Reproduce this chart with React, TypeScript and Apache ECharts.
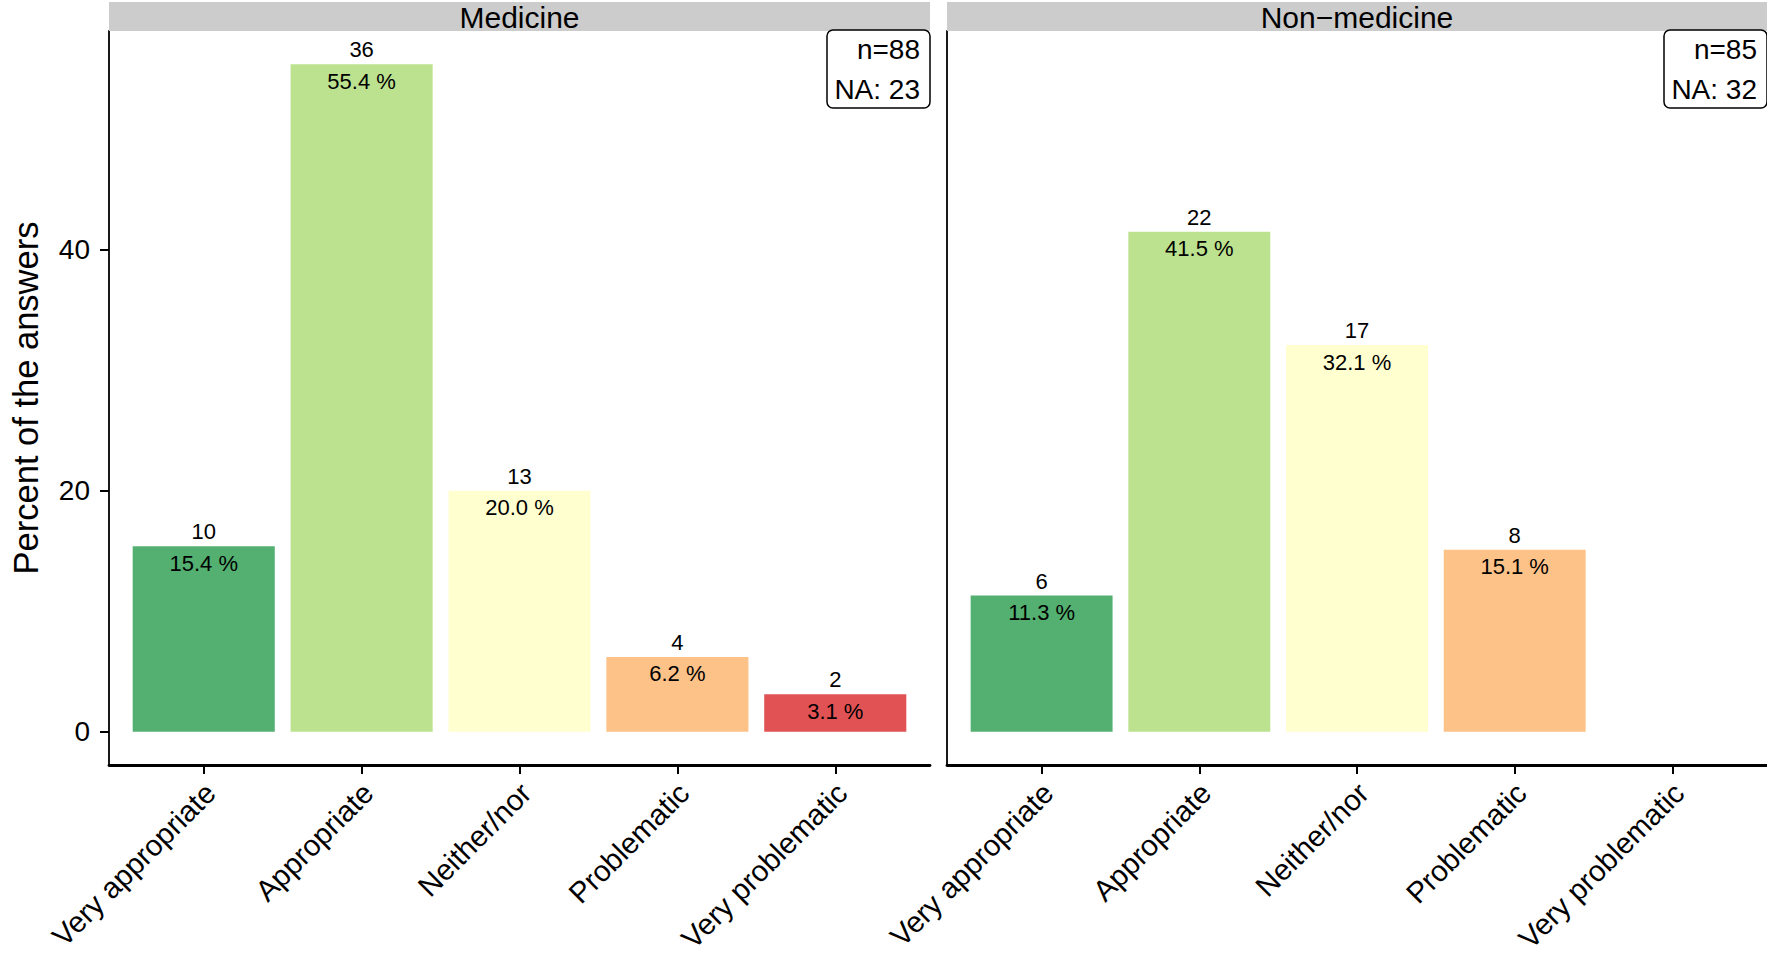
import React, { useEffect, useRef } from "react";
import * as echarts from "echarts";

const categories = ["Very appropriate", "Appropriate", "Neither/nor", "Problematic", "Very problematic"];
const colors = ["#53B070", "#BCE28F", "#FFFFCF", "#FDC288", "#E15255"];

const panelTitles = ["Medicine", "Non\u2212medicine"];
const medicinePct = [15.4, 55.4, 20.0, 6.2, 3.1];
const medicineCounts = [10, 36, 13, 4, 2];
const nonMedicinePct = [11.3, 41.5, 32.1, 15.1];
const nonMedicineCounts = [6, 22, 17, 8];
const nTotals = [88, 85];
const naCounts = [23, 32];

const yTicks = [0, 20, 40];
const yMin = -2.77;
const yMax = 58.17;

const FONT = "'Liberation Sans', Arial, Helvetica, sans-serif";

const W = 1767;
const H = 956;
const TOP = 31;
const BOTTOM = 765;
const panels = [
  { left: 109, right: 930 },
  { left: 947, right: 1767 },
];

export default function App() {
  const ref = useRef<HTMLDivElement>(null);

  useEffect(() => {
    if (!ref.current) return;
    const chart = echarts.init(ref.current, null, { renderer: "svg" });
    const idx = categories.map((_, i) => i);
    const pctSets = [medicinePct, nonMedicinePct];
    const countSets = [medicineCounts, nonMedicineCounts];

    const grids = panels.map((p) => ({
      left: p.left,
      top: TOP,
      width: p.right - p.left,
      height: BOTTOM - TOP,
      containLabel: false,
      outerBoundsMode: "none",
    }));

    const xAxes = panels.map((p, g) => ({
      type: "value",
      gridIndex: g,
      min: -0.6,
      max: 4.6,
      splitLine: { show: false },
      axisLine: { show: true, onZero: false, lineStyle: { color: "#000", width: 2.8 } },
      axisTick: { show: true, customValues: idx, length: 9, lineStyle: { color: "#000", width: 2 } },
      axisLabel: {
        show: true,
        customValues: idx,
        formatter: (v: number) => categories[Math.round(v)] ?? "",
        rotate: 45,
        align: "right",
        verticalAlign: "top",
        margin: 8,
        padding: [0, 6, 0, 0],
        fontSize: 29.5,
        fontFamily: FONT,
        color: "#000",
      },
    }));

    const yAxes = panels.map((p, g) => ({
      type: "value",
      gridIndex: g,
      min: yMin,
      max: yMax,
      splitLine: { show: false },
      axisLine: { show: true, onZero: false, lineStyle: { color: "#000", width: 1.8 } },
      axisTick: g === 0
        ? { show: true, customValues: yTicks, length: 9, lineStyle: { color: "#000", width: 2 } }
        : { show: false },
      axisLabel: g === 0
        ? { show: true, customValues: yTicks, margin: 19, fontSize: 28, fontFamily: FONT, color: "#000" }
        : { show: false },
      name: g === 0 ? "Percent of the answers" : "",
      nameLocation: "middle",
      nameGap: 66,
      nameTextStyle: { fontSize: 34.5, fontFamily: FONT, color: "#000" },
    }));

    const series: any[] = [];
    pctSets.forEach((pcts, g) => {
      const bw = (0.9 * (panels[g].right - panels[g].left)) / 5.2;
      series.push({
        type: "bar",
        xAxisIndex: g,
        yAxisIndex: g,
        barWidth: bw,
        data: pcts.map((v, i) => ({ value: [i, v], itemStyle: { color: colors[i] } })),
        label: {
          show: true,
          position: "insideTop",
          distance: 6,
          fontSize: 22,
          fontFamily: FONT,
          color: "#000",
          formatter: (p: any) => p.value[1].toFixed(1) + " %",
        },
      });
      series.push({
        type: "scatter",
        xAxisIndex: g,
        yAxisIndex: g,
        symbol: "rect",
        symbolSize: 1,
        itemStyle: { color: "rgba(0,0,0,0)", opacity: 1 },
        data: pcts.map((v, i) => ({ value: [i, v] })),
        label: {
          show: true,
          position: "top",
          distance: 3,
          fontSize: 22,
          fontFamily: FONT,
          color: "#000",
          opacity: 1,
          formatter: (p: any) => String(countSets[g][p.dataIndex]),
        },
        z: 5,
      });
    });

    const graphics: any[] = [];
    panels.forEach((p, g) => {
      graphics.push({
        type: "rect",
        shape: { x: p.left, y: 2, width: p.right - p.left, height: TOP - 2 },
        style: { fill: "#CCCCCC" },
        z: 10,
      });
      graphics.push({
        type: "text",
        x: (p.left + p.right) / 2,
        y: (TOP + 2) / 2 + 1,
        style: {
          text: panelTitles[g],
          fontSize: 30,
          fontFamily: FONT,
          fill: "#000",
          align: "center",
          verticalAlign: "middle",
        },
        z: 11,
      });
      graphics.push({
        type: "rect",
        shape: { x: p.right - 103, y: TOP - 1, width: 103, height: 78, r: 6 },
        style: { fill: "#fff", stroke: "#000", lineWidth: 1.5 },
        z: 20,
      });
      graphics.push({
        type: "text",
        x: p.right - 10,
        y: TOP + 18,
        style: {
          text: "n=" + nTotals[g],
          fontSize: 28,
          fontFamily: FONT,
          fill: "#000",
          align: "right",
          verticalAlign: "middle",
        },
        z: 21,
      });
      graphics.push({
        type: "text",
        x: p.right - 10,
        y: TOP + 58,
        style: {
          text: "NA: " + naCounts[g],
          fontSize: 28,
          fontFamily: FONT,
          fill: "#000",
          align: "right",
          verticalAlign: "middle",
        },
        z: 21,
      });
    });

    chart.setOption({
      animation: false,
      backgroundColor: "#fff",
      grid: grids,
      xAxis: xAxes,
      yAxis: yAxes,
      series,
      graphic: graphics,
    });

    return () => chart.dispose();
  }, []);

  return (
    <div
      ref={ref}
      style={{ position: "absolute", left: 0, top: 0, width: W + "px", height: H + "px", background: "#fff" }}
    />
  );
}
